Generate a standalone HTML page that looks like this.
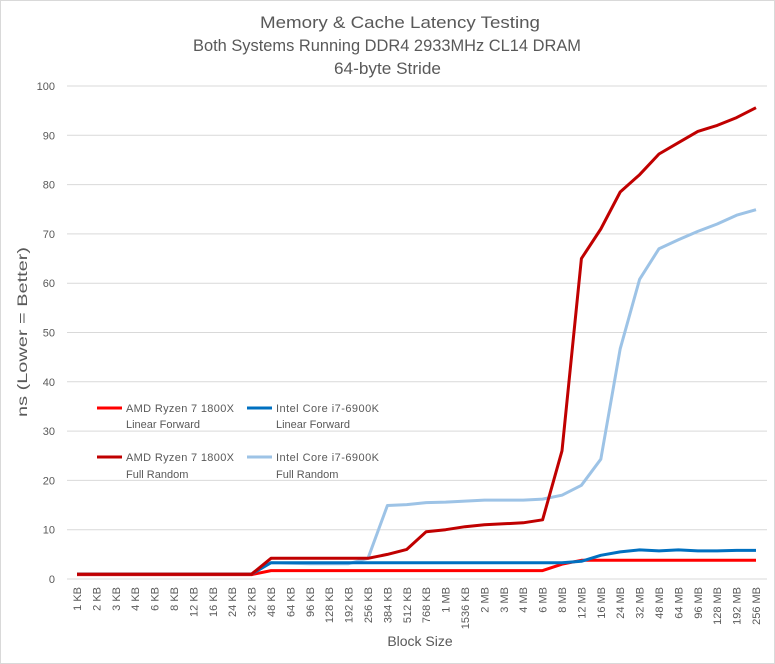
<!DOCTYPE html>
<html><head><meta charset="utf-8"><style>
body{margin:0;background:#fff}
svg{display:block;font-family:"Liberation Sans",sans-serif}
</style></head><body>
<svg id="c" width="775" height="664" xmlns="http://www.w3.org/2000/svg">
<rect x="0.5" y="0.5" width="774" height="663" fill="#fff" stroke="#d9d9d9"/>
<g fill="#595959" font-size="17">
<text x="260" y="28" textLength="280" lengthAdjust="spacingAndGlyphs">Memory &amp; Cache Latency Testing</text>
<text x="193" y="51" textLength="388" lengthAdjust="spacingAndGlyphs">Both Systems Running DDR4 2933MHz CL14 DRAM</text>
<text x="334" y="74" textLength="107" lengthAdjust="spacingAndGlyphs">64-byte Stride</text>
</g>
<text x="0" y="0" transform="translate(27,332) rotate(-90)" text-anchor="middle" font-size="14" fill="#595959" textLength="170" lengthAdjust="spacingAndGlyphs">ns (Lower = Better)</text>
<text x="420" y="646" text-anchor="middle" font-size="14" fill="#595959">Block Size</text>
<g id="grid"></g><g id="xl"></g><g id="lines"></g>
<g font-size="11" fill="#595959">
<line x1="97" y1="408" x2="122" y2="408" stroke="#FF0000" stroke-width="3"/>
<text x="126" y="412" textLength="108">AMD Ryzen 7 1800X</text><text x="126" y="428">Linear Forward</text>
<line x1="247" y1="408" x2="272" y2="408" stroke="#0070C0" stroke-width="3"/>
<text x="276" y="412" textLength="103">Intel Core i7-6900K</text><text x="276" y="428">Linear Forward</text>
<line x1="97" y1="457" x2="122" y2="457" stroke="#C00000" stroke-width="3"/>
<text x="126" y="461" textLength="108">AMD Ryzen 7 1800X</text><text x="126" y="478">Full Random</text>
<line x1="247" y1="457" x2="272" y2="457" stroke="#9DC3E6" stroke-width="3"/>
<text x="276" y="461" textLength="103">Intel Core i7-6900K</text><text x="276" y="478">Full Random</text>
</g>
</svg>
<script>
var NS="http://www.w3.org/2000/svg";
function el(t,a,p,txt){var e=document.createElementNS(NS,t);for(var k in a)e.setAttribute(k,a[k]);if(txt!=null)e.textContent=txt;p.appendChild(e);return e;}
var y0=579,sc=4.93,x0=77,dx=19.4;
var g=document.getElementById('grid');
for(var v=0;v<=100;v+=10){var y=y0-v*sc;el('line',{x1:67,x2:767,y1:y,y2:y,stroke:'#d9d9d9','stroke-width':1},g);
el('text',{x:55,y:y+4,'text-anchor':'end','font-size':11,fill:'#595959'},g,v);}
var cats=["1 KB","2 KB","3 KB","4 KB","6 KB","8 KB","12 KB","16 KB","24 KB","32 KB","48 KB","64 KB","96 KB","128 KB","192 KB","256 KB","384 KB","512 KB","768 KB","1 MB","1536 KB","2 MB","3 MB","4 MB","6 MB","8 MB","12 MB","16 MB","24 MB","32 MB","48 MB","64 MB","96 MB","128 MB","192 MB","256 MB"];
var xl=document.getElementById('xl');
cats.forEach(function(c,i){var x=x0+i*dx;el('text',{transform:'translate('+(x+4)+',587) rotate(-90)','text-anchor':'end','font-size':11,fill:'#595959'},xl,c);});
var K=function(a,n){return Array(n).fill(a)};
var s=[
["#9DC3E6",K(1,10).concat([3.3,3.2,3.1,3.1,3.1,4.2,14.9,15.1,15.5,15.6,15.8,16,16,16,16.2,17,19,24.3,46.7,60.8,67,68.8,70.5,72,73.8,74.9])],
["#FF0000",K(0.9,10).concat(K(1.7,15)).concat([3,3.8,3.8,3.8,3.8,3.8,3.8,3.8,3.8,3.8,3.8])],
["#0070C0",K(1,10).concat(K(3.3,16)).concat([3.6,4.8,5.5,5.9,5.7,5.9,5.7,5.7,5.8]).slice(0,36)],
["#C00000",K(1,10).concat([4.2,4.2,4.2,4.2,4.2,4.2,5,6,9.6,10,10.6,11,11.2,11.4,12,26,65,71,78.5,82,86.2,88.5,90.8,92,93.6,95.6])]
];
var L=document.getElementById('lines');
s.forEach(function(a){var d=a[1];while(d.length<36)d.push(d[d.length-1]);
var p=d.slice(0,36).map(function(v,i){return (x0+i*dx).toFixed(1)+','+(y0-v*sc).toFixed(1)}).join(' ');
el('polyline',{points:p,fill:'none',stroke:a[0],'stroke-width':3,'stroke-linejoin':'round'},L);});
</script>
</body></html>
